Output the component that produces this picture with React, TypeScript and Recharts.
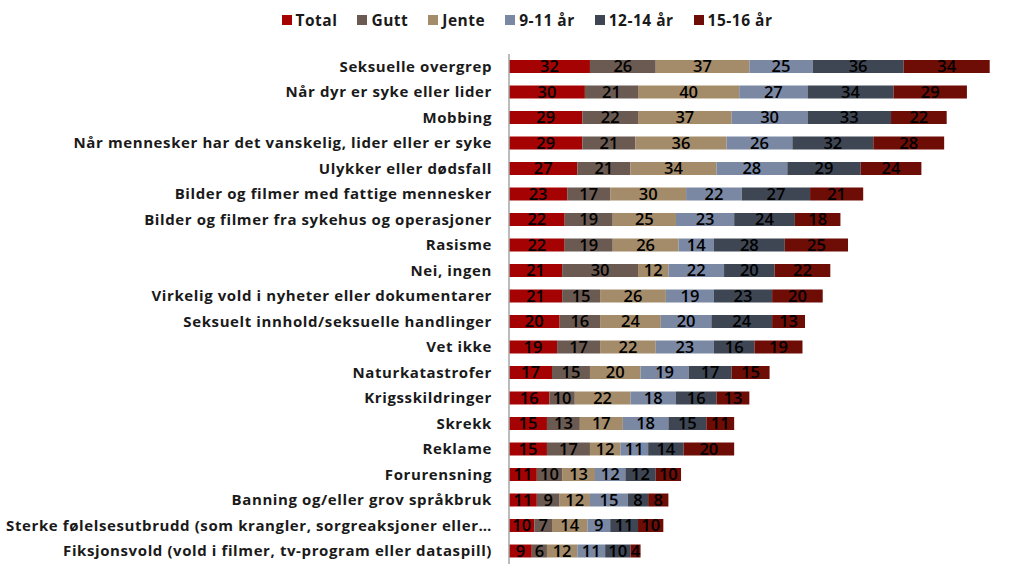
import React from "react";
import { BarChart, Bar, XAxis, YAxis, Legend, LabelList } from "recharts";

const categories = [
  "Seksuelle overgrep",
  "Når dyr er syke eller lider",
  "Mobbing",
  "Når mennesker har det vanskelig, lider eller er syke",
  "Ulykker eller dødsfall",
  "Bilder og filmer med fattige mennesker",
  "Bilder og filmer fra sykehus og operasjoner",
  "Rasisme",
  "Nei, ingen",
  "Virkelig vold i nyheter eller dokumentarer",
  "Seksuelt innhold/seksuelle handlinger",
  "Vet ikke",
  "Naturkatastrofer",
  "Krigsskildringer",
  "Skrekk",
  "Reklame",
  "Forurensning",
  "Banning og/eller grov språkbruk",
  "Sterke følelsesutbrudd (som krangler, sorgreaksjoner eller…",
  "Fiksjonsvold (vold i filmer, tv-program eller dataspill)",
];

const total = [32, 30, 29, 29, 27, 23, 22, 22, 21, 21, 20, 19, 17, 16, 15, 15, 11, 11, 10, 9];
const gutt = [26, 21, 22, 21, 21, 17, 19, 19, 30, 15, 16, 17, 15, 10, 13, 17, 10, 9, 7, 6];
const jente = [37, 40, 37, 36, 34, 30, 25, 26, 12, 26, 24, 22, 20, 22, 17, 12, 13, 12, 14, 12];
const age9_11 = [25, 27, 30, 26, 28, 22, 23, 14, 22, 19, 20, 23, 19, 18, 18, 11, 12, 15, 9, 11];
const age12_14 = [36, 34, 33, 32, 29, 27, 24, 28, 20, 23, 24, 16, 17, 16, 15, 14, 12, 8, 11, 10];
const age15_16 = [34, 29, 22, 28, 24, 21, 18, 25, 22, 20, 13, 19, 15, 13, 11, 20, 10, 8, 10, 4];

const seriesNames = ["Total", "Gutt", "Jente", "9-11 år", "12-14 år", "15-16 år"];
const seriesKeys = ["total", "gutt", "jente", "a911", "a1214", "a1516"];
const seriesColors = ["#a50303", "#6a5a52", "#a48c6a", "#7b88a4", "#3e4654", "#6e0c06"];

const data = categories.map((name, i) => ({
  name,
  total: total[i],
  gutt: gutt[i],
  jente: jente[i],
  a911: age9_11[i],
  a1214: age12_14[i],
  a1516: age15_16[i],
}));

const FONT = "'Open Sans', 'DejaVu Sans', sans-serif";

const CategoryTick = (props: any) => {
  const { x, y, payload } = props;
  return (
    <text
      x={x - 9}
      y={y}
      dy={5}
      textAnchor="end"
      fontFamily={FONT}
      fontWeight={700}
      fontSize={15}
      letterSpacing={0.6}
      fill="#1a1a1a"
    >
      {payload.value}
    </text>
  );
};

const LegendContent = () => (
  <div
    style={{
      display: "flex",
      justifyContent: "center",
      alignItems: "center",
      height: 30,
      fontFamily: FONT,
      fontWeight: 700,
      fontSize: 15.5,
      letterSpacing: 0.5,
      color: "#1a1a1a",
      paddingLeft: 30,
    }}
  >
    {seriesNames.map((n, i) => (
      <div key={n} style={{ display: "flex", alignItems: "center", marginRight: i < seriesNames.length - 1 ? 20 : 0 }}>
        <div style={{ width: 10, height: 10, background: seriesColors[i], marginRight: 4 }} />
        <span>{n}</span>
      </div>
    ))}
  </div>
);

export default function App() {
  return (
    <div style={{ position: "absolute", left: 0, top: 0, background: "#fff" }}>
      <BarChart
        width={1024}
        height={581}
        data={data}
        layout="vertical"
        margin={{ top: 24, right: 9, bottom: 17, left: 0 }}
      >
        <XAxis type="number" hide domain={[0, 200]} />
        <YAxis
          type="category"
          dataKey="name"
          width={509}
          tickLine={false}
          axisLine={{ stroke: "#a6a6a6", strokeWidth: 1.5 }}
          tick={<CategoryTick />}
          interval={0}
        />
        <Legend verticalAlign="top" content={<LegendContent />} wrapperStyle={{ top: 5, left: 0, width: 1024 }} />
        {seriesKeys.map((k, i) => (
          <Bar
            key={k}
            dataKey={k}
            name={seriesNames[i]}
            stackId="a"
            fill={seriesColors[i]}
            barSize={13}
            isAnimationActive={false}
          >
            <LabelList
              dataKey={k}
              position="center"
              fill="#000"
              fontFamily={FONT}
              fontWeight={600}
              fontSize={16.5}
            />
          </Bar>
        ))}
      </BarChart>
    </div>
  );
}
